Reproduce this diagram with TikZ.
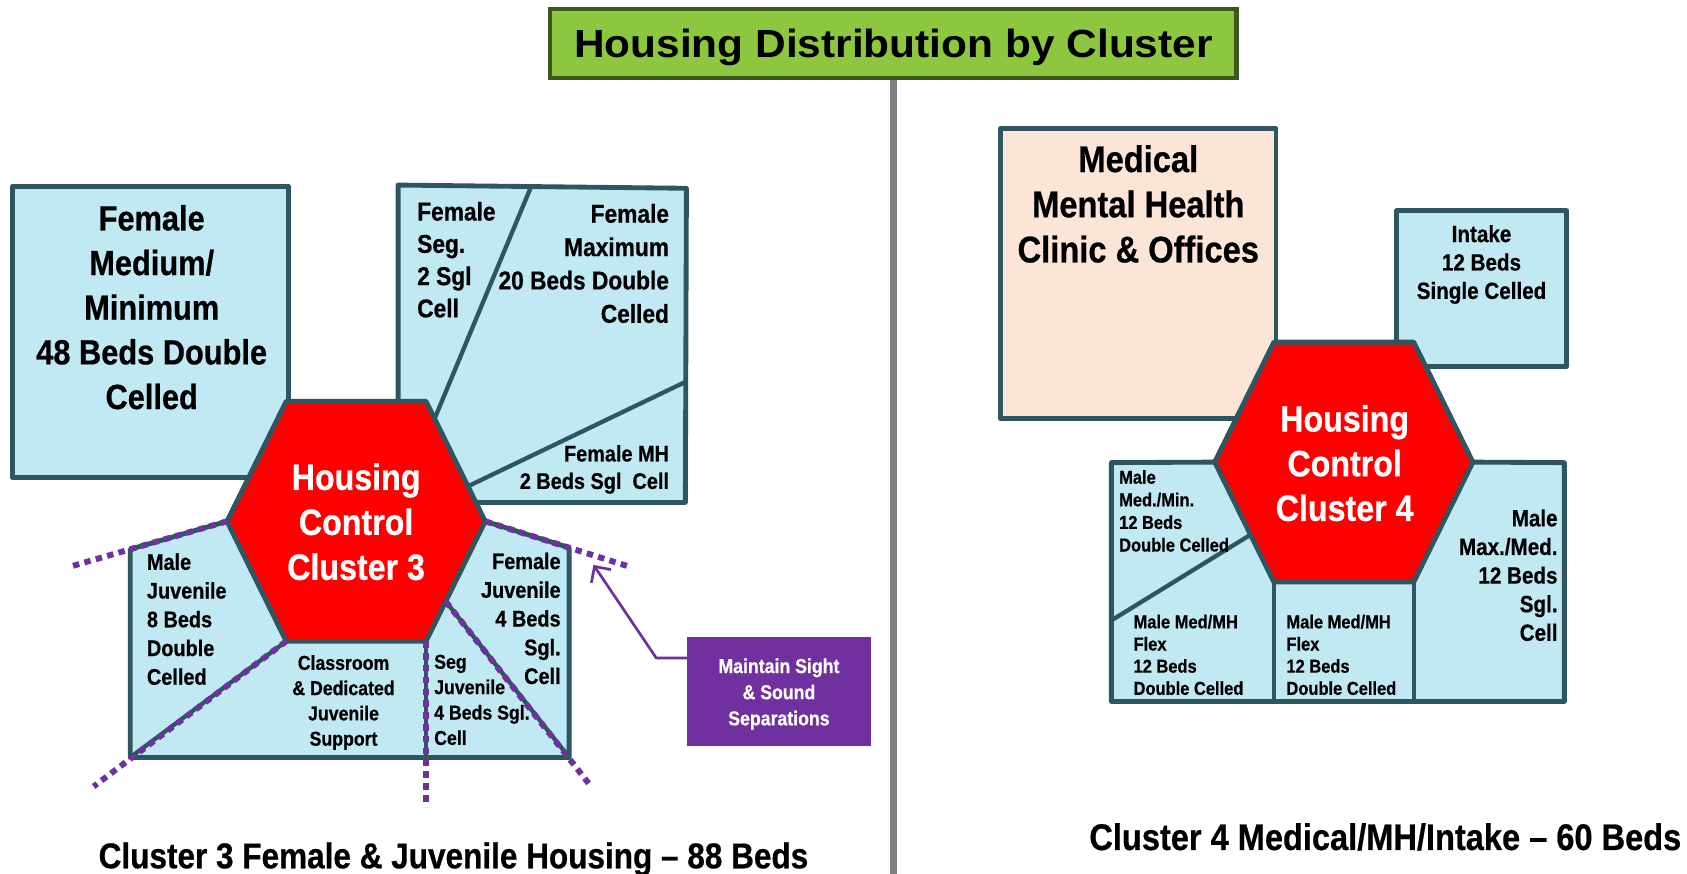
\documentclass[tikz,border=0pt]{standalone}
\usepackage{fontspec}
\setmainfont{Liberation Sans}
\newfontfamily\cond[FakeStretch=0.88,FakeBold=0.6]{Liberation Sans}
\newfontfamily\titlefont[FakeStretch=1.08]{Liberation Sans}
\usetikzlibrary{arrows.meta}
\definecolor{boxblue}{RGB}{192,233,243}
\definecolor{edgeteal}{RGB}{45,86,96}
\definecolor{sepurple}{RGB}{112,48,160}
\definecolor{peach}{RGB}{251,229,214}
\definecolor{titlegreen}{RGB}{141,198,63}
\definecolor{titleedge}{RGB}{62,88,32}
\definecolor{divgray}{RGB}{128,128,128}
\definecolor{hexred}{RGB}{255,0,0}
\newcommand{\fsz}[2]{\fontsize{#1pt}{#2pt}\selectfont}
\begin{document}
\begin{tikzpicture}[x=1pt,y=-1pt,
  room/.style={fill=boxblue,draw=edgeteal,line width=4.5pt,line join=round},
  wall/.style={draw=edgeteal,line width=4pt},
  hexcell/.style={fill=hexred,draw=edgeteal,line width=4.5pt,line join=round},
  sepline/.style={draw=sepurple,line width=5.5pt,dash pattern=on 6pt off 5pt},
  lbl/.style 2 args={inner sep=0pt,font=\cond\bfseries\fsz{#1}{#2}},
]
\useasboundingbox (0,0) rectangle (1568,812);
\fill[white] (0,0) rectangle (1568,812);

% title and divider
\node[draw=titleedge, fill=titlegreen, line width=4pt, minimum width=638pt, minimum height=64pt,
      inner sep=0pt, text height=26pt, text depth=0pt, font=\titlefont\bfseries\fsz{36.5}{44}]
      (title) at (830.4,40.3) {Housing Distribution by Cluster};
\coordinate (divbot) at (830.4,812);
\draw[divgray, line width=6pt] (title.south) -- (divbot);

% ---------------- Cluster 3 ----------------
\coordinate (h3a) at (266,373);
\coordinate (h3b) at (396,373);
\coordinate (h3c) at (451,484.5);
\coordinate (h3d) at (396,596);
\coordinate (h3e) at (266,596);
\coordinate (h3f) at (211,484.5);

% female medium/minimum
\draw[room] (12,173) rectangle (268,444);
% female maximum block
\draw[room] (370,172) -- (638,175) -- (637,467) -- (420,467) -- (370,400) -- cycle;
\coordinate (segtop) at (493,175);
\coordinate (segbot) at (404,389);
\draw[wall] (segtop) -- (segbot);
\coordinate (mhright) at (637,355);
\coordinate (mhleft) at (437,451);
\draw[wall] (mhright) -- (mhleft);
% lower juvenile block
\coordinate (jtl) at (121,510.5);
\coordinate (jbl) at (121,704);
\coordinate (jbr) at (529,704);
\coordinate (jtr) at (529,509);
\draw[room] (h3f) -- (jtl) -- (jbl) -- (jbr) -- (jtr) -- (h3c) -- cycle;
\coordinate (jdiag) at (414.3,559);
\coordinate (jvbot) at (396,704);
\draw[wall] (h3e) -- (jbl);
\draw[wall] (h3d) -- (jvbot);
\draw[wall] (jdiag) -- (jbr);
% hexagon
\draw[hexcell] (h3a) -- (h3b) -- (h3c) -- (h3d) -- (h3e) -- (h3f) -- cycle;
% separation lines
\coordinate (s1) at (64,527);
\coordinate (s2) at (586,527);
\coordinate (s3) at (87,731);
\coordinate (s4) at (396,750);
\coordinate (s5) at (548.6,730);
\draw[sepline] (h3f) -- (s1);
\draw[sepline] (h3c) -- (s2);
\draw[sepline] (h3e) -- (s3);
\draw[sepline] (h3d) -- (s4);
\draw[sepline] (jdiag) -- (s5);

% cluster 3 texts
\node[lbl={32.5}{41.5}, anchor=north, align=center] (tfemmed) at (141,190.4)
  {Female\\Medium/\\Minimum\\48 Beds Double\\Celled};
\node[lbl={24}{30}, anchor=north west, align=left] (tfemseg) at (387.6,187.4)
  {Female\\Seg.\\2 Sgl\\Cell};
\node[lbl={24}{31}, anchor=north east, align=right] (tfemmax) at (622,189.4)
  {Female\\Maximum\\20 Beds Double\\Celled};
\node[lbl={21}{25.5}, anchor=north east, align=right] (tfemmh) at (622,413.5)
  {Female MH\\2 Beds Sgl\ \ Cell};
\node[lbl={34}{41.8}, anchor=north, align=center, text=white] (thex3) at (331,430.5)
  {Housing\\Control\\Cluster 3};
\node[lbl={21}{26.7}, anchor=north west, align=left] (tmjuv) at (136.4,514.2)
  {Male\\Juvenile\\8 Beds\\Double\\Celled};
\node[lbl={21}{26.7}, anchor=north east, align=right] (tfjuv) at (521.3,513.5)
  {Female\\Juvenile\\4 Beds\\Sgl.\\Cell};
\node[lbl={18.7}{23.5}, anchor=north, align=center] (tclass) at (319.3,608.8)
  {Classroom\\\& Dedicated\\Juvenile\\Support};
\node[lbl={18.7}{23.6}, anchor=north west, align=left] (tsegjuv) at (403.4,608.3)
  {Seg\\Juvenile\\4 Beds Sgl.\\Cell};

% callout
\node[fill=sepurple, minimum width=171pt, minimum height=101.3pt, inner sep=0pt] (sep) at (724,642.4) {};
\node[lbl={18.7}{24.3}, anchor=north, align=center, text=white] (septext) at (724,611.8)
  {Maintain Sight\\\& Sound\\Separations};
\coordinate (arrstart) at (638.5,611.6);
\coordinate (arrbend) at (610,611.6);
\coordinate (arrtip) at (551.6,525);
\draw[sepurple, line width=2.5pt, line join=round, -{Straight Barb[length=11pt,width=22pt]}]
  (arrstart) -- (arrbend) -- (arrtip);

\node[lbl={33.3}{40}, anchor=base] (cap3) at (421.5,807)
  {Cluster 3 Female \& Juvenile Housing – 88 Beds};

% ---------------- Cluster 4 ----------------
\coordinate (h4a) at (1184,318);
\coordinate (h4b) at (1314,318);
\coordinate (h4c) at (1369,429.5);
\coordinate (h4d) at (1314,541);
\coordinate (h4e) at (1184,541);
\coordinate (h4f) at (1129,429.5);

\draw[room, fill=peach] (930,119.5) rectangle (1186,389);
\draw[room] (1298,196) rectangle (1456,340.5);
% lower block
\coordinate (ktl) at (1033,430);
\coordinate (kbl) at (1033,652);
\coordinate (kbr) at (1454,652);
\coordinate (ktr) at (1454,430);
\draw[room] (h4f) -- (ktl) -- (kbl) -- (kbr) -- (ktr) -- (h4c) -- cycle;
\coordinate (kdiag) at (1162.3,497);
\coordinate (kdiagend) at (1034,576);
\coordinate (kv1) at (1184,652);
\coordinate (kv2) at (1314,652);
\draw[wall] (kdiag) -- (kdiagend);
\draw[wall] (h4e) -- (kv1);
\draw[wall] (h4d) -- (kv2);
\draw[hexcell] (h4a) -- (h4b) -- (h4c) -- (h4d) -- (h4e) -- (h4f) -- cycle;

\node[lbl={34.5}{42}, anchor=north, align=center] (tmed) at (1058,134.7)
  {Medical\\Mental Health\\Clinic \& Offices};
\node[lbl={21.8}{26.4}, anchor=north, align=center] (tintake) at (1377,209)
  {Intake\\12 Beds\\Single Celled};
\node[lbl={34}{41.5}, anchor=north, align=center, text=white] (thex4) at (1249.8,376.3)
  {Housing\\Control\\Cluster 4};
\node[lbl={17.4}{21}, anchor=north west, align=left] (tmmm) at (1040,436.8)
  {Male\\Med./Min.\\12 Beds\\Double Celled};
\node[lbl={17.4}{20.6}, anchor=north west, align=left] (tflex1) at (1053.4,571.2)
  {Male Med/MH\\Flex\\12 Beds\\Double Celled};
\node[lbl={17.4}{20.6}, anchor=north west, align=left] (tflex2) at (1195.5,571.2)
  {Male Med/MH\\Flex\\12 Beds\\Double Celled};
\node[lbl={21.8}{26.6}, anchor=north east, align=right] (tmmax) at (1447.9,473.2)
  {Male\\Max./Med.\\12 Beds\\Sgl.\\Cell};
\node[lbl={34.4}{40}, anchor=base] (cap4) at (1287.6,790)
  {Cluster 4 Medical/MH/Intake – 60 Beds};
\end{tikzpicture}
\end{document}
